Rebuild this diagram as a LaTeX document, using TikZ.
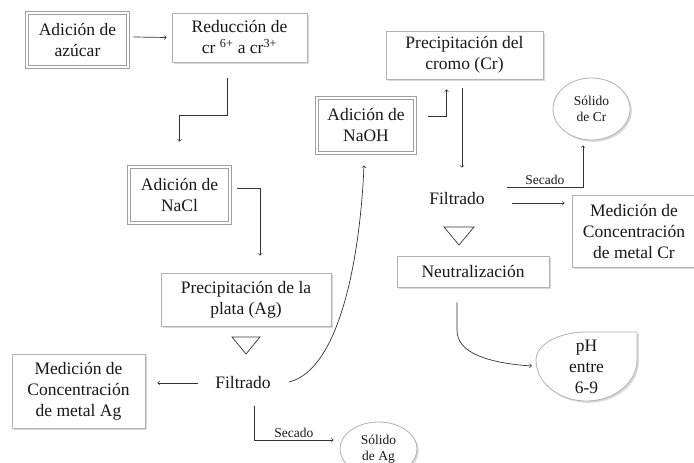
\documentclass[tikz,border=0pt]{standalone}
\usepackage{fontspec}
\setmainfont{Liberation Serif}
\usetikzlibrary{calc,shapes.geometric,shadows}

\begin{document}
\begin{tikzpicture}[x=1pt,y=-1pt,
  every node/.style={font=\fontsize{17.5}{21}\selectfont, text=black!90, align=center},
  softshadow/.style={drop shadow={shadow xshift=1.8pt, shadow yshift=-1.8pt, fill=black, opacity=0.15}},
  box/.style={draw=gray!60, line width=0.8pt, fill=white, inner sep=0pt, softshadow},
  dbox/.style={box, draw=gray!75, line width=0.9pt, double=white, double distance=2.2pt},
  oval/.style={ellipse, box},
  txt/.style={inner sep=2pt},
  small/.style={font=\fontsize{13.5}{16}\selectfont},
  line/.style={draw=black!80, line width=0.7pt},
  >=to]
\useasboundingbox (0,0) rectangle (694,463);
\node[dbox, minimum width=101, minimum height=54] (azucar) at (77.5,40) {Adición de\\azúcar};
\node[box, minimum width=135, minimum height=49] (reduccion) at (239.5,37.5) {Reducción de\\cr \textsuperscript{6+} a cr\textsuperscript{3+}};
\node[dbox, minimum width=101, minimum height=56] (nacl) at (179.5,195) {Adición de\\NaCl};
\node[box, minimum width=170, minimum height=53] (plata) at (246,299.5) {Precipitación de la\\plata (Ag)};
\node[txt] (filtag) at (243,383) {Filtrado};
\node[box, minimum width=133, minimum height=74] (medag) at (78.5,391) {Medición de\\Concentración\\de metal Ag};
\node[oval, small, minimum width=77, minimum height=54] (solag) at (378.5,449) {Sólido\\de Ag};
\node[dbox, minimum width=98, minimum height=55] (naoh) at (366,125.5) {Adición de\\NaOH};
\node[box, minimum width=157, minimum height=48] (cromo) at (464.5,55) {Precipitación del\\cromo (Cr)};
\node[txt] (filtcr) at (457,199) {Filtrado};
\node[box, minimum width=152, minimum height=31] (neutral) at (473,271.5) {Neutralización};
\node[box, minimum width=124, minimum height=72] (medcr) at (634,231) {Medición de\\Concentración\\de metal Cr};
\node[oval, small, minimum width=77, minimum height=62] (solcr) at (591.5,109) {Sólido\\de Cr};
\draw[draw=gray!60, line width=0.8pt, fill=white, softshadow] (637,332) -- (637,360)
  arc[start angle=0, end angle=180, x radius=50.5, y radius=41]
  arc[start angle=180, end angle=270, x radius=50.5, y radius=28] -- cycle;
\node[ellipse, inner sep=-8pt, minimum width=101, minimum height=69] (ph) at (586.5,367) {pH\\entre\\6-9};

\draw[line] (232,337) -- (260,337) -- (246,354) -- cycle;
\draw[line] (444,227) -- (474,227) -- (459,245) -- cycle;

\draw[line,->] ($(azucar.east)+(5,-3)$) -- ($(reduccion.west)+(-5,0)$);
\draw[line,->] ($(reduccion.south)+(-12.5,16)$) -- ++(0,37) -| ($(nacl.north)+(0,-25)$);
\draw[line,->] ($(nacl.east)+(7,-7)$) -| ($(plata.north)+(14,-17)$);
\draw[line,->] ($(filtag.west)+(-15,0)$) -- ($(medag.east)+(12,-8)$);
\draw[line,->] ($(filtag.south)+(11,15)$) |- node[pos=0.75, above, small, txt] {Secado} ($(solag.west)+(-6,-9)$);
\draw[line,->] ($(filtag.east)+(16,-1)$) .. controls +(50,-12) and +(-4,95) .. ($(naoh.south)+(-2,12)$);
\draw[line,->] ($(naoh.east)+(13,-9)$) -| ($(cromo.south)+(-18,10)$);
\draw[line,->] ($(cromo.south)+(-2.5,9)$) -- ($(filtcr.north)+(5,-23)$);
\draw[line,->] ($(filtcr.east)+(25,4)$) -- ($(medcr.west)+(-7,-28)$);
\draw[line,->] ($(filtcr.east)+(20,-12)$) -| node[pos=0.25, above, small, txt] {Secado} ($(solcr.south)+(-8.5,5)$);
\draw[line,->] ($(neutral.south)+(-16,15)$) -- ++(0,28) .. controls +(0,22) and +(-45,-3) .. ($(ph.west)+(-4,-1)$);
\end{tikzpicture}
\end{document}
